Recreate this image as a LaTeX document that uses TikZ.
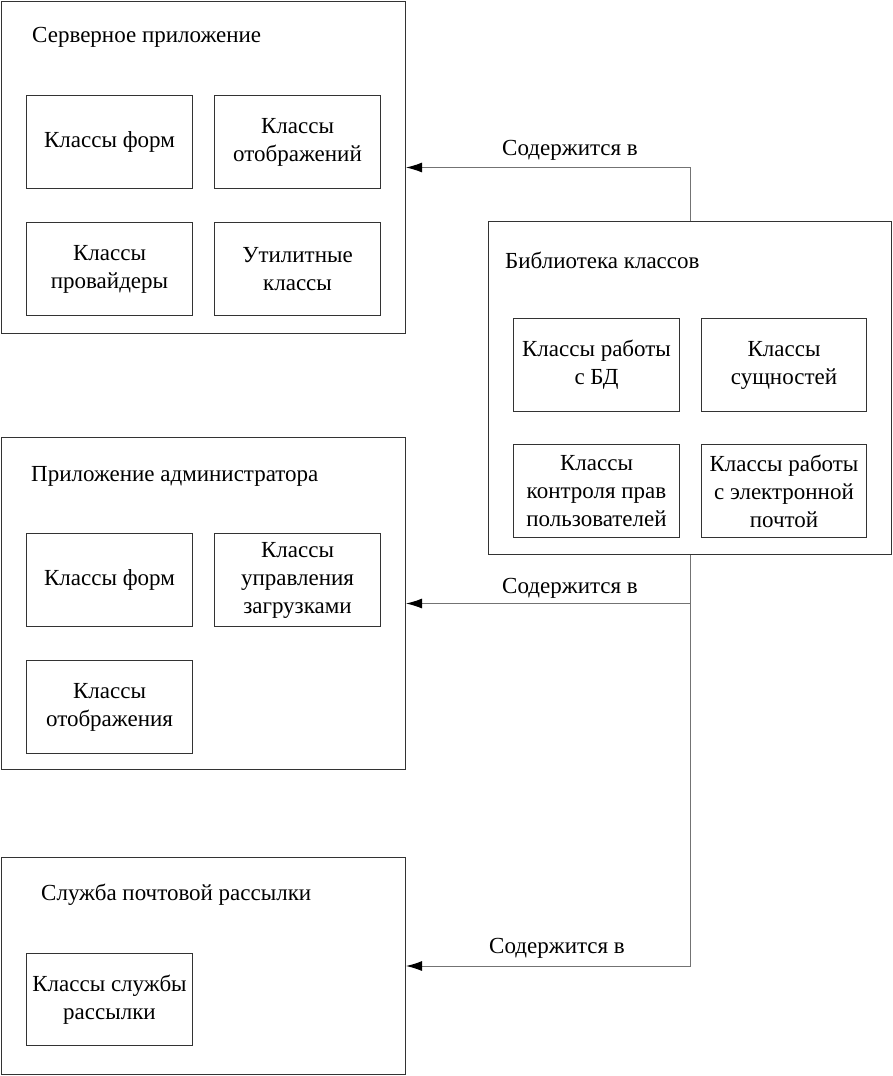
\documentclass[tikz,border=0pt]{standalone}
\usepackage{fontspec}
\setmainfont{Liberation Serif}
\newfontfamily\tnr{Liberation Serif}
\usetikzlibrary{arrows.meta,calc}
\begin{document}
\begin{tikzpicture}[x=1pt,y=-1pt,
  outer/.style={draw=black!80,line width=1pt,anchor=north west,inner sep=0pt},
  inbox/.style={draw=black!80,line width=1pt,anchor=north west,inner sep=0pt,
    minimum width=166pt,minimum height=93pt,align=center,font=\tnr\fontsize{23}{28}\selectfont},
  ttl/.style={anchor=west,inner sep=0pt,font=\tnr\fontsize{23}{24}\selectfont},
  lbl/.style={inner sep=0pt,font=\tnr\fontsize{23}{24}\selectfont},
  conn/.style={draw=black!55,line width=1pt,-{Latex[length=16pt,width=10pt,black]}}]
\useasboundingbox (0,0) rectangle (893,1076);
% Server application
\node[outer,minimum width=404pt,minimum height=332pt] (srv) at (1,1) {};
\node[ttl] (srvt) at (32,37) {Серверное приложение};
\node[inbox] (s1) at (26,95) {Классы форм};
\node[inbox] (s2) at (214,95) {Классы\\отображений};
\node[inbox] (s3) at (26,222) {Классы\\провайдеры};
\node[inbox] (s4) at (214,222) {Утилитные\\классы};
% Library
\node[outer,minimum width=403pt,minimum height=333pt] (lib) at (488,221) {};
\node[ttl] (libt) at (505,260) {Библиотека классов};
\node[inbox] (l1) at (513,318) {Классы работы\\с БД};
\node[inbox,minimum width=165pt] (l2) at (701,318) {Классы\\сущностей};
\node[inbox] (l3) at (513,444) {Классы\\контроля прав\\пользователей};
\node[inbox,minimum width=165pt] (l4) at (701,444) {Классы работы\\с электронной\\почтой};
% Admin application
\node[outer,minimum width=404pt,minimum height=332pt] (adm) at (1,437) {};
\node[ttl] (admt) at (31,476) {Приложение администратора};
\node[inbox] (a1) at (26,533) {Классы форм};
\node[inbox] (a2) at (214,533) {Классы\\управления\\загрузками};
\node[inbox] (a3) at (26,660) {Классы\\отображения};
% Mail service
\node[outer,minimum width=404pt,minimum height=217pt] (mail) at (1,857) {};
\node[ttl] (mailt) at (41,895) {Служба почтовой рассылки};
\node[inbox,minimum height=92pt] (m1) at (26,953) {Классы службы\\рассылки};
% Connectors
\coordinate (j) at (690,0);
\draw[conn] (lib.north -| j) |- (srv.east);
\draw[conn] (lib.south -| j) |- (adm.east);
\draw[conn] (lib.south -| j) |- (mail.east);
\node[lbl] (c1) at (570,150) {Содержится в};
\node[lbl] (c2) at (570,588) {Содержится в};
\node[lbl] (c3) at (557,948) {Содержится в};
\end{tikzpicture}
\end{document}
